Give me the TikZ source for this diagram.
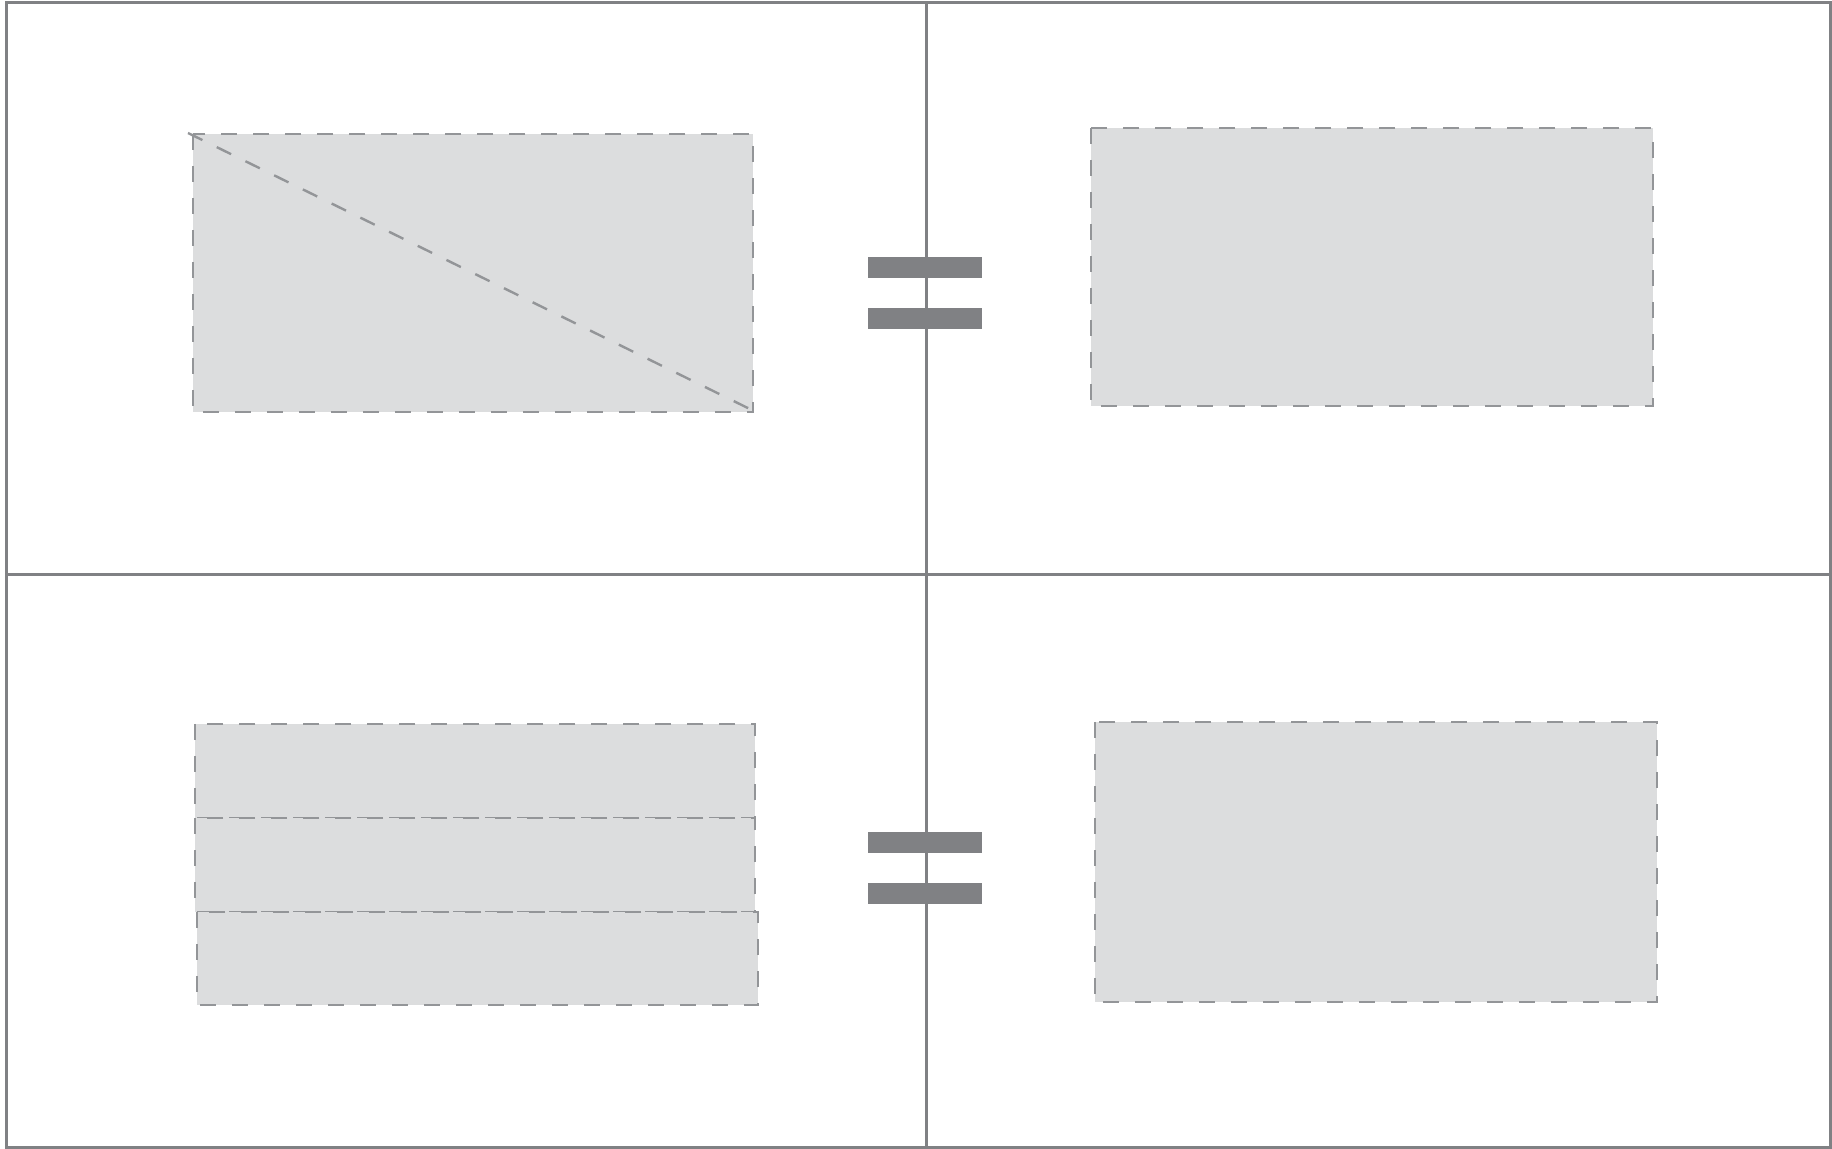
\documentclass[tikz,border=0pt]{standalone}
\definecolor{framegray}{HTML}{808184}
\definecolor{boxfill}{HTML}{DCDDDE}
\definecolor{dashgray}{HTML}{939598}
\tikzset{
  frameline/.style={draw=framegray, line width=1.5pt},
  dbox/.style={fill=boxfill, draw=dashgray, line width=1.35pt, dash pattern=on 8pt off 8pt},
  dline/.style={draw=dashgray, line width=1.2pt, dash pattern=on 8pt off 8pt},
  eqbar/.style={fill=framegray, draw=none}
}
\begin{document}
\begin{tikzpicture}[x=0.5pt,y=-0.5pt]
\useasboundingbox (0,0) rectangle (1832,1149);
% boxes
\path[dbox] (193,134) rectangle (753,412);
\draw[dline] (188,133) -- (758,413);
\path[dbox] (1091,128) rectangle (1653,406);
\path[dbox] (195,724) rectangle (755,818);
\path[dbox] (195,818) rectangle (755,912);
\path[dbox] (197,912) rectangle (758,1005);
\path[dbox] (1095,722) rectangle (1657,1002);
% frame
\draw[frameline] (6,2.5) rectangle (1830.5,1147.5);
\draw[frameline] (926,2.5) -- (926,1147.5);
\draw[frameline] (6,575) -- (1830.5,575);
% equals signs
\path[eqbar] (868,257) rectangle (982,278);
\path[eqbar] (868,308) rectangle (982,329);
\path[eqbar] (868,832) rectangle (982,853);
\path[eqbar] (868,883) rectangle (982,904);
\end{tikzpicture}
\end{document}
